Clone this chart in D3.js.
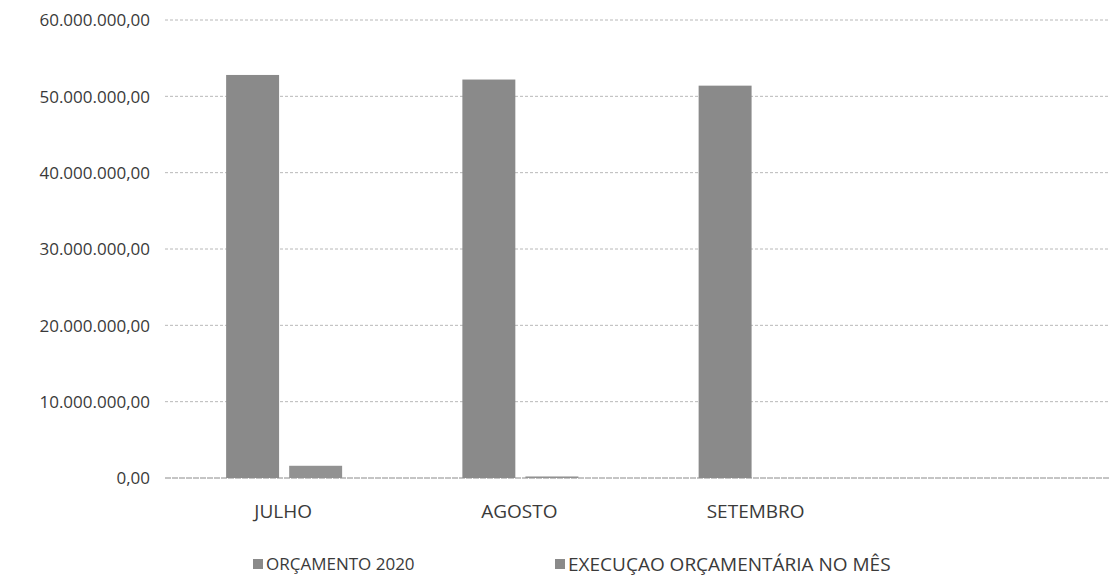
<!DOCTYPE html>
<html>
<head>
<meta charset="utf-8">
<script src="https://cdn.jsdelivr.net/npm/d3@7"></script>
<style>
body { margin: 0; background: #fff; }
svg text { font-family: "Open Sans", "Liberation Sans", sans-serif; fill: #3a3a3a; }
</style>
</head>
<body>
<svg width="1114" height="585"></svg>
<script>
var months = ["JULHO", "AGOSTO", "SETEMBRO", ""]
var series_names = ["ORÇAMENTO 2020", "EXECUÇAO ORÇAMENTÁRIA NO MÊS"]
var orcamento = [52800000, 52200000, 51400000, null]
var execucao = [1600000, 200000, 0, null]
var y_ticks = [0, 10000000, 20000000, 30000000, 40000000, 50000000, 60000000]

var plot_left = 165
var plot_right = 1110
var plot_top = 20
var plot_bottom = 478

var pt = d3.formatLocale({decimal: ",", thousands: ".", grouping: [3], currency: ["R$", ""]})
var fmt = pt.format(",.2f")

var svg = d3.select("svg")

var x = d3.scaleBand()
  .domain(months)
  .range([plot_left, plot_right])

var y = d3.scaleLinear()
  .domain([0, 60000000])
  .range([plot_bottom, plot_top])

var x_in = d3.scaleBand()
  .domain([0, 1])
  .range([0, 116])
  .paddingInner(0.16)

/* grille */
svg.append("g")
  .attr("class", "grid")
  .selectAll("line")
  .data(y_ticks)
  .enter()
  .append("line")
  .attr("x1", plot_left)
  .attr("x2", plot_right)
  .attr("y1", d => y(d))
  .attr("y2", d => y(d))
  .attr("stroke", d => d == 0 ? "#8a8a8a" : "#b8b8b8")
  .attr("stroke-width", 1)
  .attr("stroke-dasharray", d => d == 0 ? "6,1" : "3,2")

/* axe y */
var y_axis = svg.append("g")
  .attr("transform", "translate(150,0)")
  .call(d3.axisLeft(y).tickValues(y_ticks).tickFormat(fmt).tickSize(0).tickPadding(0))
y_axis.select(".domain").remove()
y_axis.selectAll("text")
  .attr("font-size", 17)
  .attr("dy", "0.35em")

/* barres */
var data = months.map((m, i) => ({month: m, values: [orcamento[i], execucao[i]]}))

var groups = svg.append("g")
  .selectAll("g")
  .data(data)
  .enter()
  .append("g")
  .attr("transform", d => "translate(" + (x(d.month) + x.bandwidth() / 2 - 57) + ",0)")

groups.selectAll("rect")
  .data(d => d.values.map((v, k) => ({k: k, v: v})).filter(e => e.v != null && e.v > 0))
  .enter()
  .append("rect")
  .attr("x", d => x_in(d.k))
  .attr("width", x_in.bandwidth())
  .attr("y", d => y(d.v))
  .attr("height", d => plot_bottom - y(d.v))
  .attr("fill", d => d.k == 0 ? "#8a8a8a" : "#929292")

/* axe x */
var x_axis = svg.append("g")
  .attr("transform", "translate(0," + (plot_bottom + 33) + ")")
  .call(d3.axisBottom(x).tickSize(0).tickPadding(0))
x_axis.select(".domain").remove()
x_axis.selectAll("text")
  .attr("font-size", 19)
  .attr("dy", "0.35em")

/* légende */
var legend_x = [253, 555]
var legend_size = [17, 19]
var legend = svg.append("g")
  .selectAll("g")
  .data(series_names)
  .enter()
  .append("g")
  .attr("transform", (d, i) => "translate(" + legend_x[i] + ",564)")

legend.append("rect")
  .attr("x", 0)
  .attr("y", -5)
  .attr("width", 10)
  .attr("height", 10)
  .attr("fill", "#8a8a8a")

legend.append("text")
  .text(d => d)
  .attr("x", 13)
  .attr("dy", "0.35em")
  .attr("font-size", (d, i) => legend_size[i])
</script>
</body>
</html>
